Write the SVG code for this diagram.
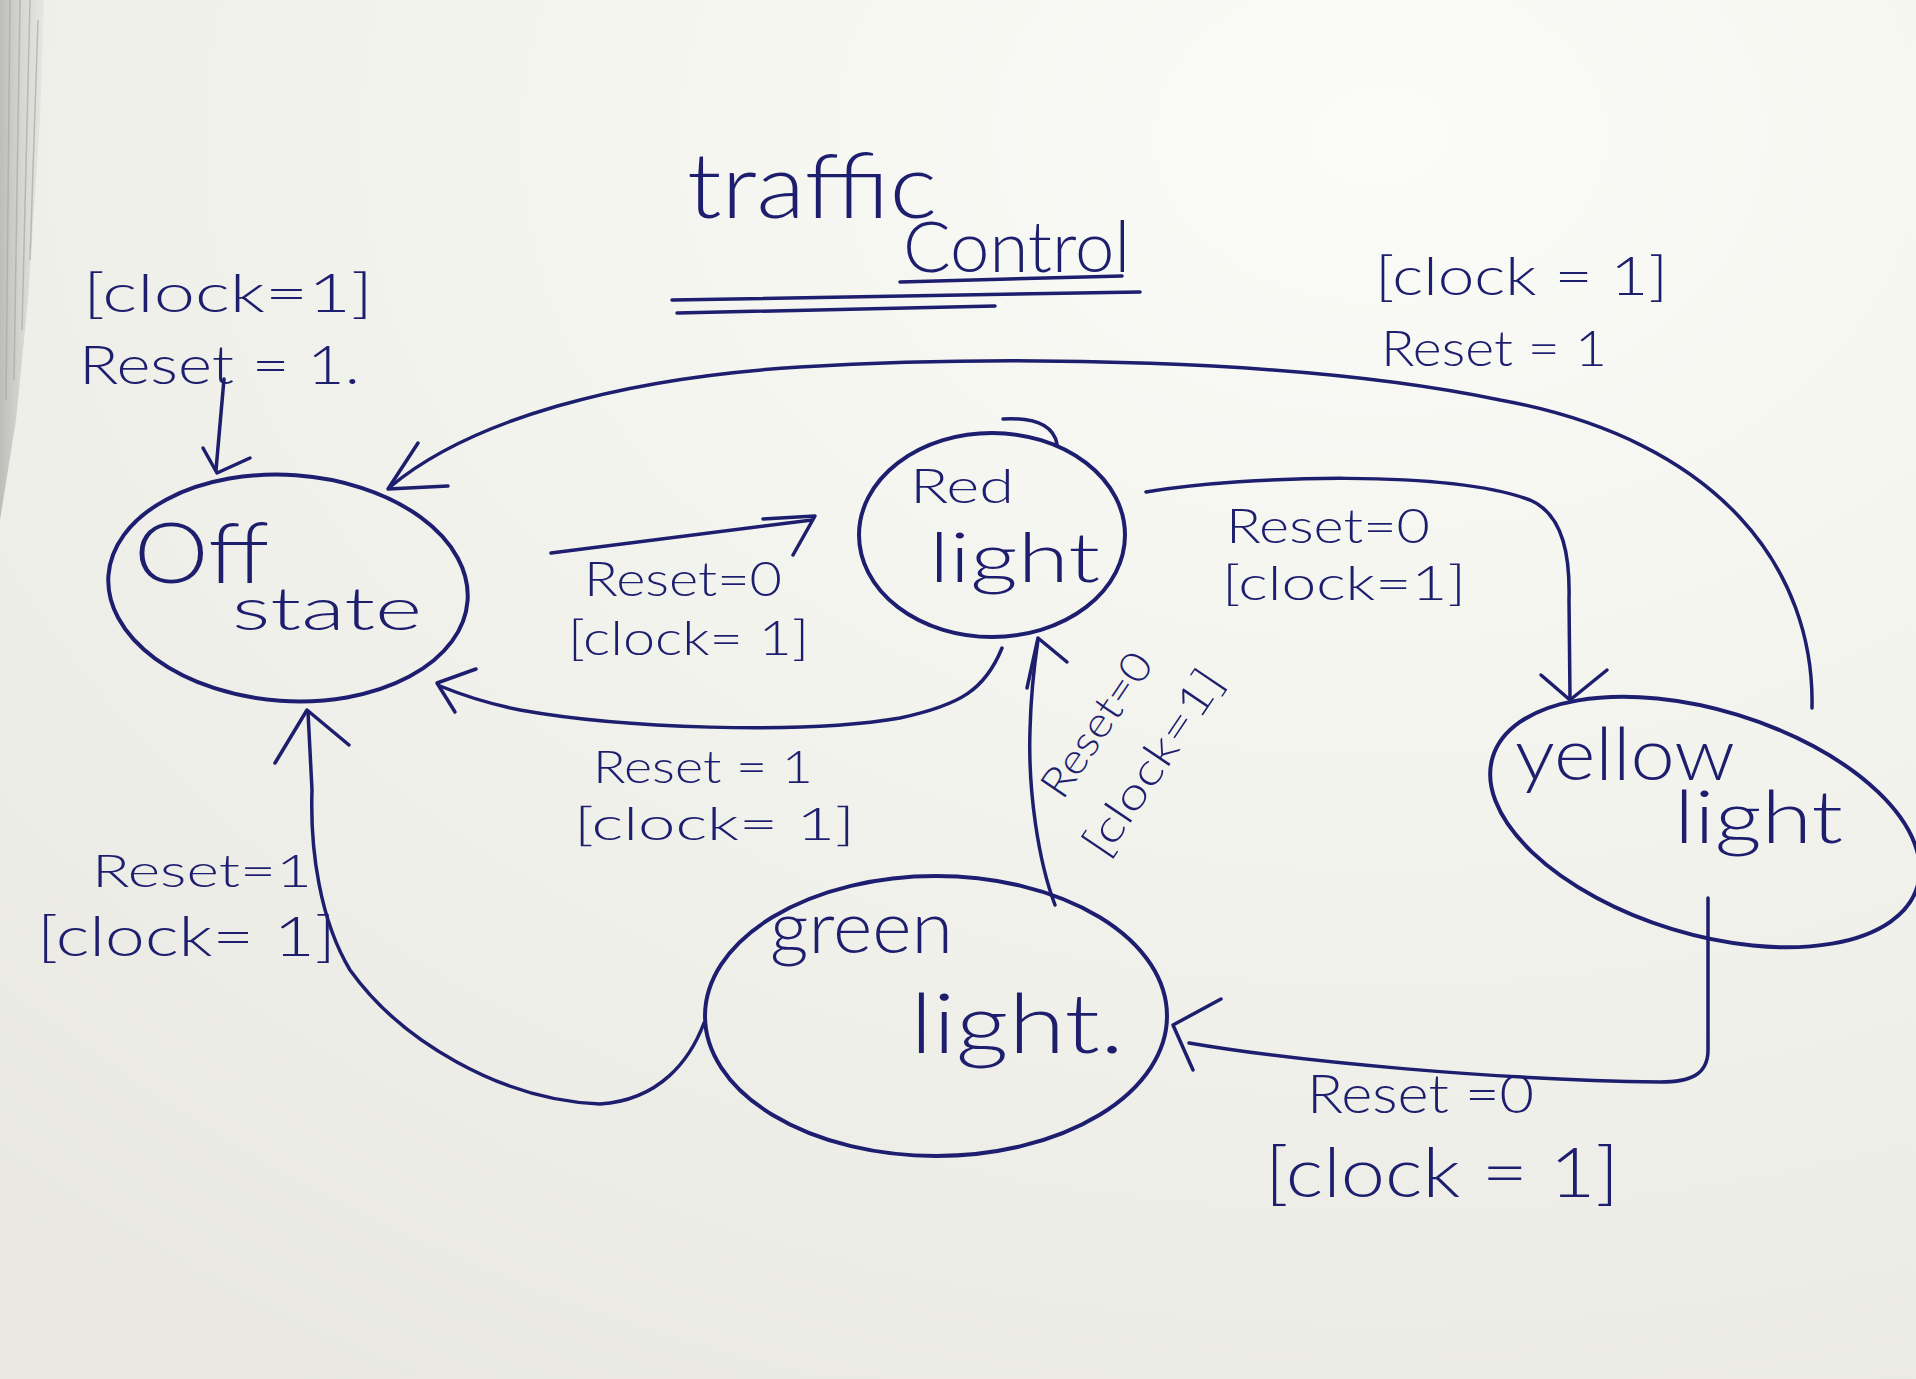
<svg xmlns="http://www.w3.org/2000/svg" width="1916" height="1379" viewBox="0 0 1916 1379">
<defs>
<radialGradient id="paper" cx="0.72" cy="0.1" r="1.1">
<stop offset="0" stop-color="#fbfbf7"/>
<stop offset="0.45" stop-color="#f3f3ee"/>
<stop offset="1" stop-color="#e8e7e1"/>
</radialGradient>
<linearGradient id="edge" x1="0" y1="0" x2="1" y2="0">
<stop offset="0" stop-color="#bdbdba"/>
<stop offset="0.5" stop-color="#d6d6d3"/>
<stop offset="1" stop-color="#e6e6e2"/>
</linearGradient>
<style>
.ink{fill:none;stroke:#1e1e6e;stroke-width:3.5;stroke-linecap:round;stroke-linejoin:round}
.node{fill:none;stroke:#1e1e70;stroke-width:4}
.t{font-family:"Lato","Liberation Sans",sans-serif;font-weight:300;fill:#1e1e6e}
</style>
</defs>
<rect width="1916" height="1379" fill="url(#paper)"/>
<path d="M0 0 L44 0 L40 120 L28 300 L16 420 L0 520 Z" fill="url(#edge)"/>
<g stroke="#a9a9a6" stroke-width="1.5" fill="none" opacity="0.7">
<path d="M10 0 L6 400"/><path d="M20 0 L14 380"/><path d="M30 0 L22 330"/><path d="M38 20 L30 260"/>
</g>

<g id="title">
<text class="t" x="687" y="218" font-size="90" textLength="250" lengthAdjust="spacingAndGlyphs">traffic</text>
<text class="t" x="903" y="272" font-size="70" textLength="227" lengthAdjust="spacingAndGlyphs">Control</text>
<path class="ink" d="M900 282 L1122 276"/>
<path class="ink" d="M672 300 L1140 292"/>
<path class="ink" d="M677 313 L995 306"/>
</g>

<g id="connectors">
<path class="ink" d="M224 379 L216 470"/>
<path class="ink" d="M203 448 L217 473 L250 458"/>
<path class="ink" d="M551 553 L812 520"/>
<path class="ink" d="M763 519 L815 516 L793 555"/>
<path class="ink" d="M1002 648 C985 690 960 705 900 718 C800 735 620 728 520 710 C490 704 462 695 440 686"/>
<path class="ink" d="M476 669 L437 683 L455 712"/>
<path class="ink" d="M1146 492 C1250 475 1450 470 1530 500 C1565 515 1570 560 1569 600 L1570 698"/>
<path class="ink" d="M1541 675 L1570 700 L1607 670"/>
<path class="ink" d="M1812 708 C1815 570 1720 440 1500 400 C1300 358 1000 355 800 367 C620 378 470 420 390 487"/>
<path class="ink" d="M418 443 L388 489 L448 486"/>
<path class="ink" d="M1708 898 L1708 1050 C1708 1075 1690 1082 1660 1082 C1500 1080 1300 1062 1189 1043"/>
<path class="ink" d="M1221 999 L1173 1025 L1193 1070"/>
<path class="ink" d="M1055 905 C1038 860 1028 790 1030 730 C1031 690 1035 660 1038 640"/>
<path class="ink" d="M1027 688 L1038 638 L1067 662"/>
<path class="ink" d="M704 1023 C690 1060 660 1100 600 1104 C500 1100 400 1040 350 970 C320 920 310 850 312 790 L308 712"/>
<path class="ink" d="M275 763 L307 710 L349 745"/>
</g>

<g id="labels">
<text class="t" x="83" y="312" font-size="54" textLength="290" lengthAdjust="spacingAndGlyphs">[clock=1]</text>
<text class="t" x="79" y="384" font-size="54" textLength="281" lengthAdjust="spacingAndGlyphs">Reset = 1.</text>
<text class="t" x="584" y="596" font-size="48" textLength="198" lengthAdjust="spacingAndGlyphs">Reset=0</text>
<text class="t" x="568" y="655" font-size="48" textLength="241" lengthAdjust="spacingAndGlyphs">[clock= 1]</text>
<text class="t" x="593" y="783" font-size="46" textLength="220" lengthAdjust="spacingAndGlyphs">Reset = 1</text>
<text class="t" x="574" y="840" font-size="46" textLength="281" lengthAdjust="spacingAndGlyphs">[clock= 1]</text>
<text class="t" x="1226" y="543" font-size="48" textLength="204" lengthAdjust="spacingAndGlyphs">Reset=0</text>
<text class="t" x="1222" y="600" font-size="48" textLength="244" lengthAdjust="spacingAndGlyphs">[clock=1]</text>
<text class="t" x="1375" y="295" font-size="54" textLength="293" lengthAdjust="spacingAndGlyphs">[clock = 1]</text>
<text class="t" x="1381" y="366" font-size="50" textLength="226" lengthAdjust="spacingAndGlyphs">Reset = 1</text>
<text class="t" x="1307" y="1113" font-size="54" textLength="227" lengthAdjust="spacingAndGlyphs">Reset =0</text>
<text class="t" x="1265" y="1197" font-size="68" textLength="354" lengthAdjust="spacingAndGlyphs">[clock = 1]</text>
<text class="t" x="92" y="887" font-size="46" textLength="220" lengthAdjust="spacingAndGlyphs">Reset=1</text>
<text class="t" x="37" y="956" font-size="56" textLength="299" lengthAdjust="spacingAndGlyphs">[clock= 1]</text>
<text class="t" transform="translate(1097 725) rotate(-56)" x="0" y="14" font-size="42" text-anchor="middle" textLength="165" lengthAdjust="spacingAndGlyphs">Reset=0</text>
<text class="t" transform="translate(1154 763) rotate(-56)" x="0" y="14" font-size="44" text-anchor="middle" textLength="215" lengthAdjust="spacingAndGlyphs">[clock=1]</text>
</g>

<g id="off-state">
<ellipse class="node" cx="288" cy="588" rx="180" ry="113" transform="rotate(4 288 588)"/>
<text class="t" x="134" y="583" font-size="84" textLength="135" lengthAdjust="spacingAndGlyphs">Off</text>
<text class="t" x="232" y="630" font-size="60" textLength="190" lengthAdjust="spacingAndGlyphs">state</text>
</g>

<g id="red-light">
<ellipse class="node" cx="992" cy="535" rx="133" ry="102"/>
<path class="ink" d="M1003 419 C1040 417 1054 428 1057 444"/>
<text class="t" x="910" y="503" font-size="48" textLength="104" lengthAdjust="spacingAndGlyphs">Red</text>
<text class="t" x="929" y="582" font-size="68" textLength="171" lengthAdjust="spacingAndGlyphs">light</text>
</g>

<g id="yellow-light">
<ellipse class="node" cx="1705" cy="822" rx="222" ry="112" transform="rotate(17 1705 822)"/>
<text class="t" x="1515" y="780" font-size="72" textLength="220" lengthAdjust="spacingAndGlyphs">yellow</text>
<text class="t" x="1674" y="843" font-size="72" textLength="169" lengthAdjust="spacingAndGlyphs">light</text>
</g>

<g id="green-light">
<ellipse class="node" cx="936" cy="1016" rx="231" ry="140"/>
<text class="t" x="770" y="953" font-size="72" textLength="183" lengthAdjust="spacingAndGlyphs">green</text>
<text class="t" x="910" y="1053" font-size="82" textLength="214" lengthAdjust="spacingAndGlyphs">light.</text>
</g>
</svg>
